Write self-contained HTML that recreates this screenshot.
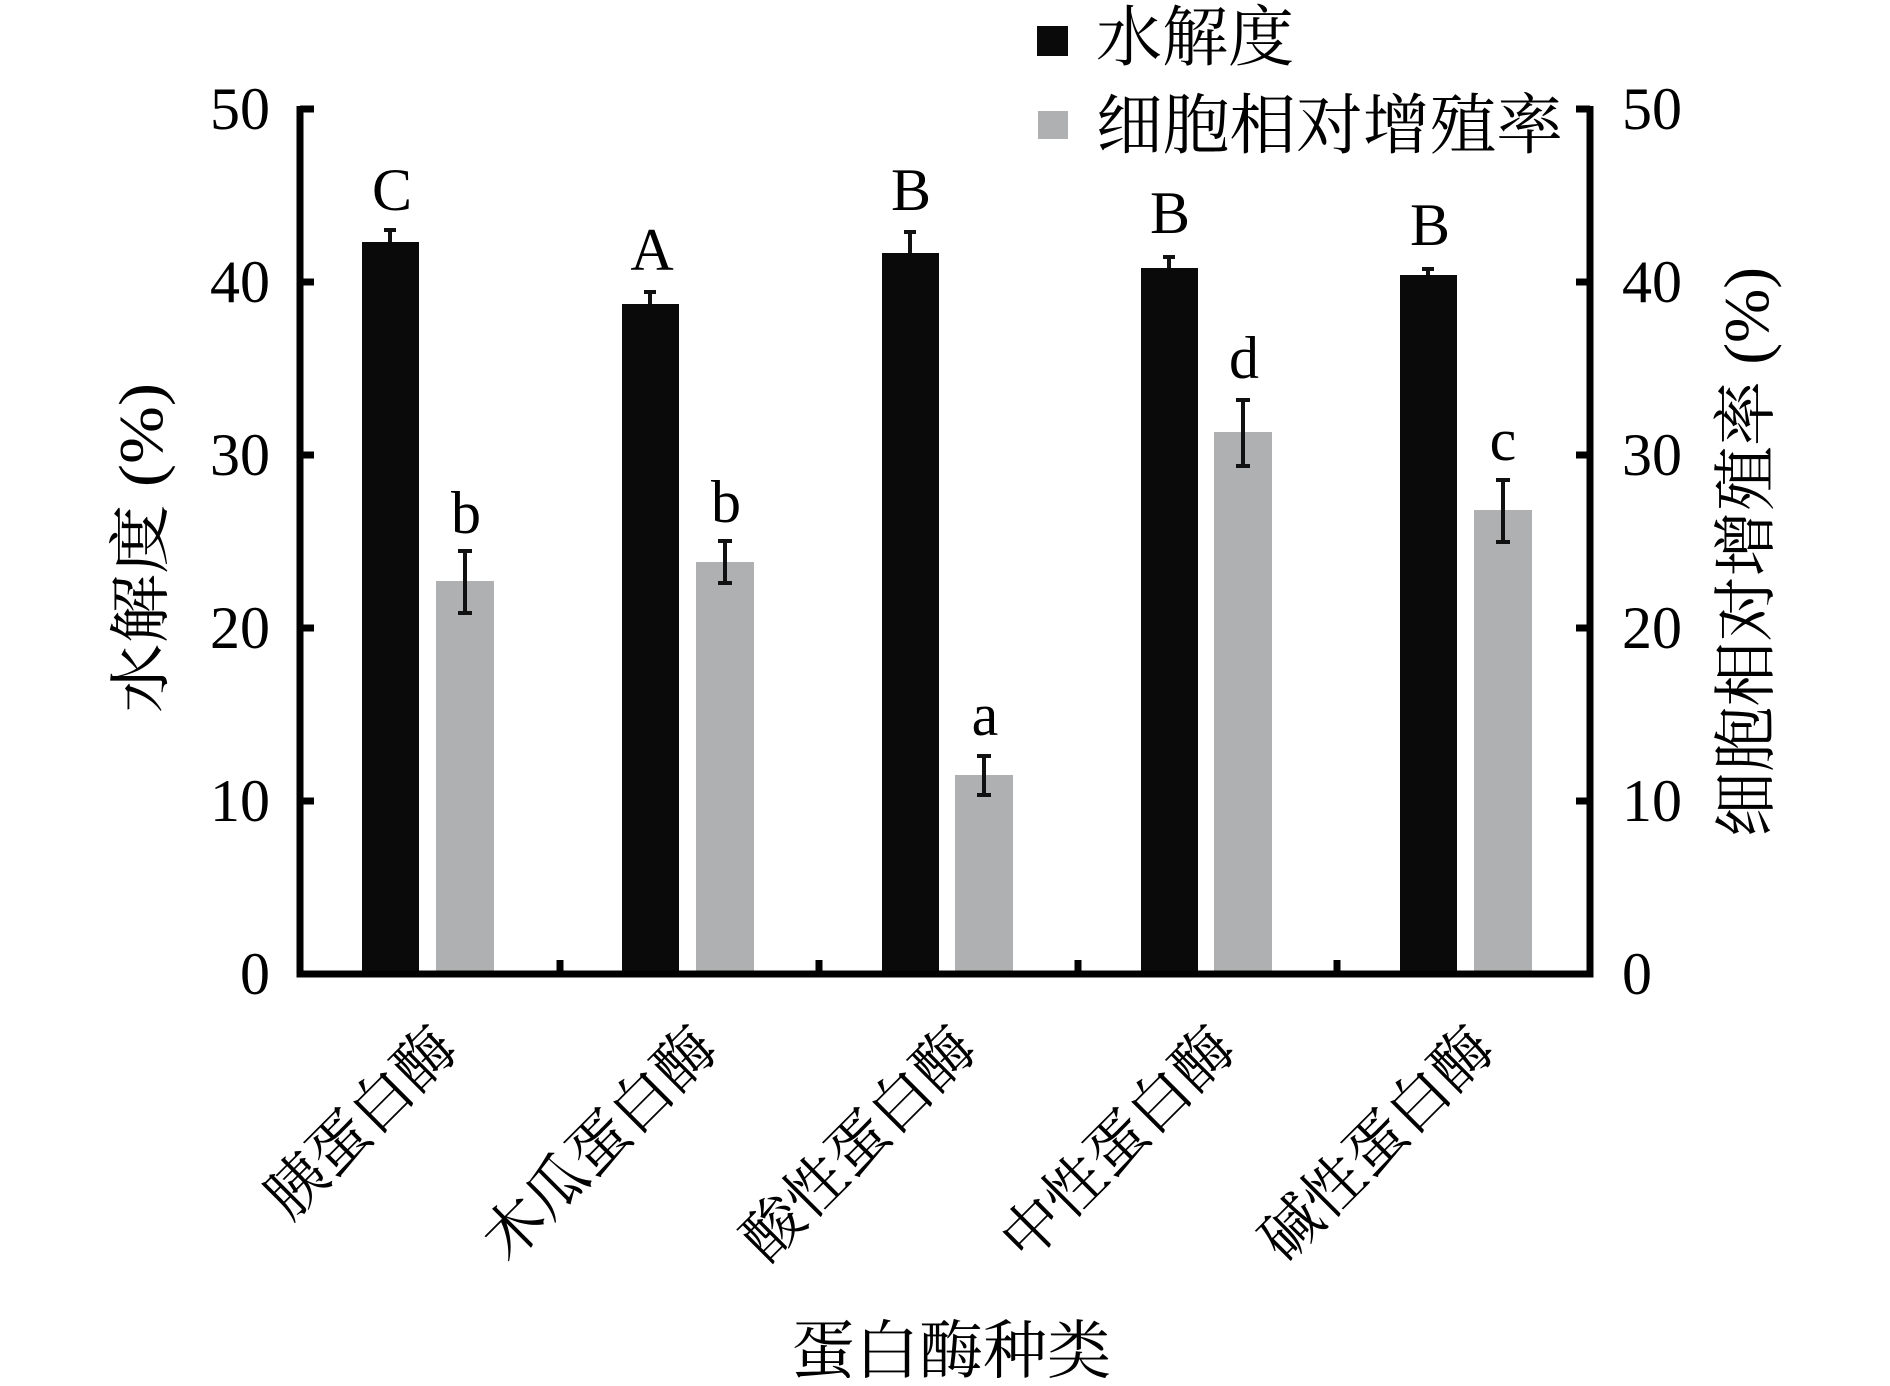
<!DOCTYPE html>
<html><head><meta charset="utf-8"><style>html,body{margin:0;padding:0;background:#fff}svg{display:block}</style></head>
<body>
<svg width="1890" height="1386" viewBox="0 0 1890 1386" xmlns="http://www.w3.org/2000/svg">
<g font-family="'Liberation Serif','Noto Serif CJK SC',serif" fill="#000">
<g fill="#0a0a0a">
<rect x="362" y="242" width="57" height="732"/>
<rect x="622" y="304" width="57" height="670"/>
<rect x="882" y="253" width="57" height="721"/>
<rect x="1141" y="268" width="57" height="706"/>
<rect x="1400" y="275" width="57" height="699"/>
</g>
<g fill="#aeb0b1">
<rect x="436" y="581" width="58" height="393"/>
<rect x="696" y="562" width="58" height="412"/>
<rect x="955" y="775" width="58" height="199"/>
<rect x="1214" y="432" width="58" height="542"/>
<rect x="1474" y="510" width="58" height="464"/>
</g>
<g stroke="#111" stroke-width="4" fill="none">
<path d="M390 242V230M384 230h12"/>
<path d="M650 304V292M644 292h12"/>
<path d="M910 253V232M904 232h12"/>
<path d="M1169 268V257M1163 257h12"/>
<path d="M1428 275V269M1422 269h12"/>
<path d="M465 551V613M458 551h14M458 613h14"/>
<path d="M725 541V583M718 541h14M718 583h14"/>
<path d="M984 756V795M977 756h14M977 795h14"/>
<path d="M1243 400V466M1236 400h14M1236 466h14"/>
<path d="M1503 480V542M1496 480h14M1496 542h14"/>
</g>
<g stroke="#000" stroke-width="7" fill="none">
<path d="M300 106V974H1590V106"/>
<path d="M300 109h14M300 282h14M300 455h14M300 628h14M300 801h14"/>
<path d="M1590 109h-14M1590 282h-14M1590 455h-14M1590 628h-14M1590 801h-14"/>
<path d="M560 974v-14M819 974v-14M1078 974v-14M1337 974v-14"/>
</g>
<g font-size="60" text-anchor="end">
<text x="270" y="129">50</text><text x="270" y="302">40</text><text x="270" y="475">30</text><text x="270" y="648">20</text><text x="270" y="821">10</text><text x="270" y="994">0</text>
</g>
<g font-size="60" text-anchor="start">
<text x="1622" y="129">50</text><text x="1622" y="302">40</text><text x="1622" y="475">30</text><text x="1622" y="648">20</text><text x="1622" y="821">10</text><text x="1622" y="994">0</text>
</g>
<g font-size="60" text-anchor="middle">
<text x="392" y="210">C</text><text x="652" y="270">A</text><text x="911" y="210">B</text><text x="1170" y="233">B</text><text x="1430" y="245">B</text>
<text x="466" y="533">b</text><text x="726" y="522">b</text><text x="985" y="735">a</text><text x="1244" y="378">d</text><text x="1503" y="460">c</text>
</g>
<rect x="1037" y="26" width="31" height="30" fill="#0a0a0a"/>
<rect x="1038" y="111" width="30" height="28" fill="#aeb0b1"/>
<g font-size="66"><text x="1096" y="60" textLength="198" lengthAdjust="spacingAndGlyphs">水解度</text><text x="1096" y="148" textLength="467" lengthAdjust="spacingAndGlyphs">细胞相对增殖率</text></g>
<text font-size="62" text-anchor="middle" transform="translate(162,548) rotate(-90)" textLength="330" lengthAdjust="spacingAndGlyphs">水解度 (%)</text>
<text font-size="64" text-anchor="middle" transform="translate(1768,552) rotate(-90)" textLength="570" lengthAdjust="spacingAndGlyphs">细胞相对增殖率 (%)</text>
<text font-size="64" text-anchor="middle" x="951" y="1373">蛋白酶种类</text>
<g font-size="60" text-anchor="end">
<text transform="translate(460,1052) rotate(-45)">胰蛋白酶</text>
<text transform="translate(720,1052) rotate(-45)">木瓜蛋白酶</text>
<text transform="translate(979,1052) rotate(-45)">酸性蛋白酶</text>
<text transform="translate(1238,1052) rotate(-45)">中性蛋白酶</text>
<text transform="translate(1497,1052) rotate(-45)">碱性蛋白酶</text>
</g>
</g>
</svg>
</body></html>
